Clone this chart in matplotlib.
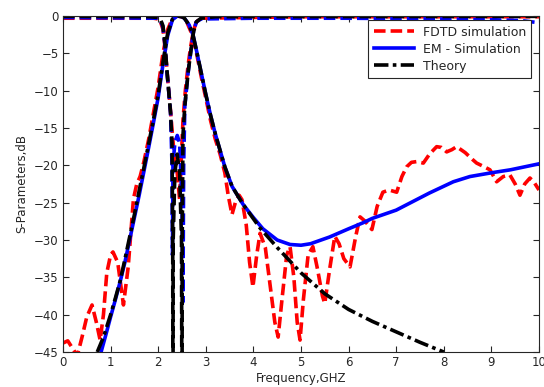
import numpy as np
import matplotlib
matplotlib.use("Agg")
import matplotlib.pyplot as plt
from matplotlib.lines import Line2D

# (frequency GHz, dB)
theory_s21 = [(0.72, -45), (0.85, -43), (1.0, -40), (1.1, -37.8), (1.2, -35.5), (1.3, -32.6),
              (1.4, -29.6), (1.5, -26.6), (1.6, -23.4), (1.7, -20.3), (1.8, -17.1), (1.9, -13.9),
              (2.0, -10.5), (2.1, -6.2), (2.2, -2.3), (2.3, -0.4), (2.4, 0), (2.5, -0.1),
              (2.55, -0.3), (2.65, -1.2), (2.73, -2.5), (2.8, -4.5), (2.9, -7.5), (3.0, -10.5),
              (3.1, -13.3), (3.2, -15.8), (3.3, -18.0), (3.4, -20.2), (3.55, -22.8), (3.78, -25.2),
              (4.14, -28.4), (4.5, -31.0), (5.0, -34.4), (5.5, -37.2), (6.0, -39.3), (6.5, -40.9),
              (7.0, -42.3), (7.5, -43.7), (8.0, -45)]

em_s21 = [(0.8, -45), (0.9, -42.7), (1.0, -40.3), (1.1, -38.0), (1.2, -35.6), (1.3, -33.0),
          (1.4, -30.0), (1.5, -27.0), (1.6, -24.0), (1.7, -20.8), (1.8, -17.6), (1.9, -14.3),
          (2.0, -10.9), (2.1, -6.5), (2.2, -2.6), (2.3, -0.5), (2.4, 0), (2.5, -0.1),
          (2.55, -0.3), (2.65, -1.2), (2.73, -2.5), (2.8, -4.5), (2.9, -7.5), (3.0, -10.5),
          (3.1, -13.3), (3.2, -15.8), (3.3, -18.0), (3.4, -20.2), (3.55, -22.8), (3.78, -25.2),
          (4.0, -27.0), (4.2, -28.5), (4.5, -30.0), (4.77, -30.6), (5.0, -30.7), (5.2, -30.5),
          (5.6, -29.6), (6.0, -28.5), (6.3, -27.7), (6.5, -27.1), (7.0, -26.0), (7.7, -23.7),
          (8.2, -22.2), (8.55, -21.5), (9.0, -21.0), (9.4, -20.6), (10.0, -19.8)]

fdtd_s21 = [(0.0, -43.8), (0.1, -43.5), (0.2, -44.5), (0.3, -45.5), (0.4, -43), (0.5, -40.3),
            (0.61, -38.7), (0.7, -41), (0.78, -43.4), (0.85, -40), (0.92, -34.4), (1.0, -32),
            (1.05, -31.6), (1.15, -33), (1.27, -38.7), (1.37, -33.6), (1.48, -24.5), (1.55, -22.5),
            (1.62, -21.5), (1.7, -19.5), (1.8, -16.5), (1.9, -13), (2.0, -9.5), (2.1, -5),
            (2.2, -1.8), (2.3, -0.3), (2.4, 0), (2.5, -0.1), (2.6, -0.8), (2.7, -2.3), (2.8, -4.8),
            (2.9, -8.0), (3.0, -11.0), (3.1, -14.0), (3.2, -16.5), (3.3, -18.5), (3.4, -21.0),
            (3.47, -24.0), (3.55, -26.6), (3.62, -25.0), (3.7, -24.0), (3.76, -24.6), (3.85, -28),
            (3.92, -33), (3.99, -36.3), (4.07, -32), (4.14, -29.1), (4.25, -31), (4.35, -36),
            (4.45, -41), (4.52, -43), (4.6, -38), (4.7, -32), (4.77, -30.9), (4.85, -35),
            (4.92, -41), (4.98, -43.4), (5.05, -38), (5.15, -32), (5.25, -30.9), (5.35, -34),
            (5.45, -37.5), (5.5, -38.5), (5.6, -34), (5.71, -29.5), (5.8, -30.5), (5.9, -32.5),
            (6.03, -33.6), (6.15, -29.5), (6.24, -26.9), (6.35, -27.5), (6.49, -28.6), (6.6, -25.5),
            (6.72, -23.6), (6.85, -23.3), (7.01, -23.6), (7.12, -21.5), (7.22, -20.2), (7.32, -19.6),
            (7.43, -19.5), (7.57, -19.7), (7.7, -18.5), (7.85, -17.5), (7.95, -17.6), (8.06, -18.2),
            (8.17, -17.9), (8.27, -17.5), (8.45, -18.3), (8.6, -19.2), (8.69, -19.7), (8.85, -20.2),
            (8.97, -20.6), (9.11, -22.2), (9.25, -21.5), (9.39, -21.3), (9.5, -22.5), (9.6, -24),
            (9.7, -22.5), (9.81, -21.7), (9.9, -22.3), (10.0, -23.3)]

theory_s11 = [(0.0, -0.05), (1.8, -0.1), (2.0, -0.2), (2.05, -0.5), (2.1, -1.3), (2.14, -3.5),
              (2.18, -7), (2.22, -10), (2.26, -13), (2.29, -17), (2.305, -30), (2.31, -60),
              (2.315, -30), (2.35, -21), (2.4, -18.5), (2.45, -21), (2.49, -30), (2.5, -60),
              (2.505, -30), (2.52, -16), (2.56, -12), (2.63, -7.5), (2.68, -5), (2.74, -2.2),
              (2.8, -0.8), (2.9, -0.3), (3.2, -0.1), (10.0, -0.05)]

em_s11 = [(0.0, -0.2), (2.0, -0.3), (2.05, -0.6), (2.1, -1.5), (2.14, -3.8), (2.18, -7.2),
          (2.22, -10), (2.26, -13), (2.29, -20), (2.3, -32), (2.31, -20), (2.35, -17), (2.4, -16),
          (2.45, -17), (2.5, -25), (2.52, -38.3), (2.535, -20), (2.56, -12), (2.63, -7.5),
          (2.68, -5), (2.74, -2.2), (2.8, -0.8), (2.9, -0.4), (4.0, -0.3), (6.0, -0.3),
          (8.0, -0.4), (9.0, -0.5), (9.6, -0.6), (10.0, -0.9)]

fdtd_s11 = [(0.0, -0.3), (1.9, -0.3), (2.0, -0.4), (2.05, -0.8), (2.1, -1.8), (2.15, -4.5),
            (2.2, -8.5), (2.25, -12), (2.3, -16), (2.35, -19.5), (2.4, -21), (2.45, -24.6),
            (2.48, -20), (2.52, -14), (2.57, -10), (2.63, -6.5), (2.68, -4.2), (2.74, -2),
            (2.8, -0.8), (2.9, -0.3), (5.0, -0.1), (10.0, -0.1)]

labels = ['FDTD simulation', 'EM - Simulation', 'Theory']
xticks = list(range(0, 11))
yticks = list(range(-45, 1, 5))

plt.rcParams['font.family'] = ['DejaVu Sans']
fig = plt.figure(figsize=(5.44, 3.87), dpi=100)
ax = fig.add_axes([0.1158, 0.0904, 0.875, 0.8683])

dash = (0, (3.2, 1.4))
dashdot = (0, (4.0, 1.2, 1.0, 1.2))
lw = 2.6

def xy(pts):
    a = np.array(pts, dtype=float)
    return a[:, 0], a[:, 1]

# FDTD (red dashed)
ax.plot(*xy(fdtd_s21), color='red', lw=lw, ls=dash)
ax.plot(*xy(fdtd_s11), color='red', lw=lw, ls=dash)
# EM simulation (blue)
ax.plot(*xy(em_s21), color='blue', lw=lw, ls='-')
ax.plot(*xy(em_s11), color='blue', lw=lw, ls=dash)
# theory (black)
ax.plot(*xy(theory_s21), color='black', lw=lw, ls=dashdot)
ax.plot(*xy(theory_s11), color='black', lw=lw, ls=dash)

ax.set_xlim(0, 10)
ax.set_ylim(-45, 0)
ax.set_xticks(xticks)
ax.set_yticks(yticks)
ax.tick_params(direction='in', top=True, right=True, length=4, width=0.8,
               labelsize=8.5, colors='#262626', pad=3)
for s in ax.spines.values():
    s.set_color('#262626')
    s.set_linewidth(0.8)

ax.set_xlabel('Frequency,GHZ', fontsize=8.5, color='#262626', labelpad=2)
ax.set_ylabel('S-Parameters,dB', fontsize=8.5, color='#262626', labelpad=4)

handles = [Line2D([], [], color='red', lw=lw, ls=dash),
           Line2D([], [], color='blue', lw=lw, ls='-'),
           Line2D([], [], color='black', lw=lw, ls=dashdot)]
leg = ax.legend(handles, labels, loc='upper right', bbox_to_anchor=(0.984, 0.988),
                fontsize=9, frameon=True, fancybox=False, framealpha=1,
                edgecolor='#262626', handlelength=3.2, handletextpad=0.7,
                labelspacing=0.32, borderpad=0.45, borderaxespad=0)
leg.get_frame().set_linewidth(0.8)
for t in leg.get_texts():
    t.set_color('#262626')

fig.savefig('out.png', dpi=100)
